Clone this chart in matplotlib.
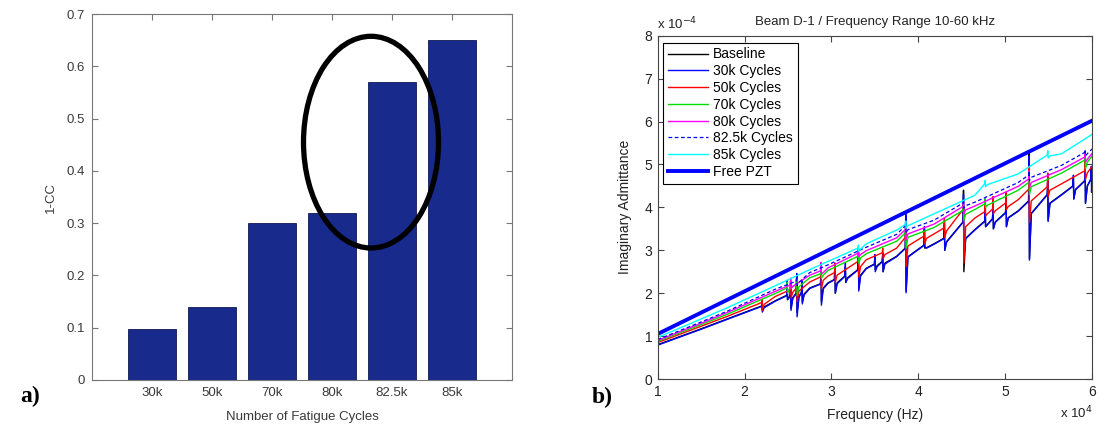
import numpy as np
import matplotlib
matplotlib.use('Agg')
import matplotlib.pyplot as plt
from matplotlib.patches import Ellipse

plt.rcParams['font.family'] = ['Liberation Sans', 'DejaVu Sans']

# ---- a) damage index per fatigue stage ----
cycles = ['30k', '50k', '70k', '80k', '82.5k', '85k']
one_minus_cc = [0.097, 0.14, 0.30, 0.32, 0.57, 0.65]

# ---- b) imaginary admittance sweeps ----
# frequency in units of 1e4 Hz, admittance in units of 1e-4
freq_nodes = [1.0, 1.5, 1.8, 2.35, 2.75, 2.96, 3.4, 3.75, 4.18, 4.65, 5.15, 5.65, 6.0]

baseline = [0.80, 1.17, 1.40, 1.82, 2.12, 2.24, 2.58, 2.86, 3.15, 3.48, 3.92, 4.30, 4.70]
cyc30 = [0.79, 1.16, 1.39, 1.81, 2.11, 2.23, 2.57, 2.85, 3.14, 3.47, 3.91, 4.29, 4.68]
cyc50 = [0.85, 1.23, 1.46, 1.92, 2.26, 2.40, 2.78, 3.05, 3.38, 3.75, 4.18, 4.55, 4.96]
cyc70 = [0.88, 1.27, 1.51, 1.99, 2.36, 2.53, 2.92, 3.21, 3.53, 3.95, 4.40, 4.80, 5.20]
cyc80 = [0.90, 1.30, 1.55, 2.04, 2.42, 2.59, 2.99, 3.29, 3.61, 4.03, 4.49, 4.88, 5.26]
cyc825 = [0.92, 1.33, 1.58, 2.09, 2.48, 2.66, 3.07, 3.37, 3.70, 4.12, 4.58, 4.98, 5.36]
cyc85 = [0.97, 1.40, 1.66, 2.17, 2.55, 2.74, 3.15, 3.47, 3.85, 4.28, 4.78, 5.25, 5.70]

pzt_freq = [1.0, 6.0]
free_pzt = [1.05, 6.02]

# resonances: (freq, value before, peak, trough, value after)
baseline_res = [
    (2.20, 1.70, 1.76, 1.60, 1.68), (2.49, 1.95, 2.25, 1.85, 1.92),
    (2.53, 1.96, 2.20, 1.65, 1.90), (2.60, 2.00, 2.40, 1.55, 1.92),
    (2.66, 2.02, 2.25, 1.80, 1.98), (2.88, 2.22, 2.65, 1.80, 2.12),
    (3.04, 2.32, 2.65, 2.00, 2.24), (3.16, 2.40, 2.60, 2.25, 2.36),
    (3.31, 2.55, 2.90, 2.10, 2.42), (3.50, 2.68, 2.85, 2.55, 2.64),
    (3.59, 2.74, 2.90, 2.50, 2.70), (3.855, 3.05, 3.80, 2.05, 2.85),
    (4.07, 3.12, 3.50, 3.05, 3.06), (4.30, 3.28, 3.60, 3.00, 3.20),
    (4.52, 3.66, 4.40, 2.50, 3.28), (4.77, 3.68, 4.00, 3.55, 3.60),
    (4.86, 3.74, 4.05, 3.50, 3.66), (5.01, 3.88, 4.15, 3.55, 3.76),
    (5.275, 4.15, 5.26, 2.80, 3.86), (5.49, 4.30, 4.65, 3.70, 4.10),
    (5.785, 4.50, 4.70, 4.20, 4.42), (5.92, 4.62, 4.90, 4.10, 4.50),
]
cyc30_res = [
    (2.20, 1.69, 1.75, 1.56, 1.66), (2.49, 1.94, 2.30, 1.85, 1.90),
    (2.53, 1.95, 2.25, 1.60, 1.88), (2.60, 1.99, 2.46, 1.45, 1.90),
    (2.66, 2.01, 2.30, 1.75, 1.96), (2.88, 2.21, 2.70, 1.72, 2.10),
    (3.04, 2.31, 2.70, 2.00, 2.22), (3.16, 2.39, 2.70, 2.25, 2.34),
    (3.31, 2.54, 2.95, 2.05, 2.40), (3.50, 2.67, 2.90, 2.50, 2.62),
    (3.59, 2.73, 2.95, 2.50, 2.68), (3.855, 3.04, 3.86, 2.01, 2.84),
    (4.07, 3.11, 3.55, 3.08, 3.05), (4.30, 3.27, 3.65, 3.00, 3.19),
    (4.52, 3.65, 4.30, 2.85, 3.27), (4.77, 3.67, 4.05, 3.55, 3.59),
    (4.86, 3.73, 4.10, 3.50, 3.65), (5.01, 3.87, 4.20, 3.55, 3.75),
    (5.275, 4.14, 5.20, 2.77, 3.85), (5.49, 4.29, 4.70, 3.67, 4.09),
    (5.785, 4.49, 4.75, 4.19, 4.41), (5.92, 4.61, 5.00, 4.09, 4.49),
    (5.99, 4.66, 4.95, 4.35, 4.68),
]
cyc50_res = [
    (2.20, 1.78, 1.86, 1.60, 1.74), (2.53, 2.08, 2.30, 1.90, 2.02),
    (2.60, 2.12, 2.35, 1.80, 2.05), (2.88, 2.38, 2.60, 2.10, 2.30),
    (3.04, 2.48, 2.70, 2.25, 2.42), (3.31, 2.74, 2.95, 2.38, 2.62),
    (3.59, 2.94, 3.05, 2.80, 2.90), (3.855, 3.30, 3.55, 2.62, 3.10),
    (4.07, 3.33, 3.45, 3.15, 3.28), (4.30, 3.52, 3.75, 3.30, 3.45),
    (4.52, 3.95, 4.05, 2.70, 3.55), (4.77, 3.90, 4.20, 3.80, 3.85),
    (4.86, 3.96, 4.25, 3.85, 3.92), (5.01, 4.10, 4.35, 3.95, 4.02),
    (5.275, 4.42, 4.95, 3.65, 4.15), (5.49, 4.48, 4.80, 4.25, 4.40),
    (5.92, 4.85, 5.15, 4.65, 4.80),
]
cyc70_res = [
    (2.49, 2.12, 2.25, 2.00, 2.10), (2.60, 2.20, 2.35, 1.95, 2.15),
    (2.88, 2.45, 2.65, 2.35, 2.42), (3.31, 2.86, 3.00, 2.70, 2.82),
    (3.855, 3.40, 3.55, 3.05, 3.30), (4.52, 3.93, 4.05, 3.70, 3.84),
    (4.77, 4.08, 4.20, 4.00, 4.05), (5.275, 4.58, 4.75, 4.30, 4.48),
    (5.92, 5.10, 5.20, 4.90, 5.05),
]
cyc80_res = [
    (2.53, 2.19, 2.35, 2.10, 2.16), (2.88, 2.52, 2.72, 2.45, 2.48),
    (3.31, 2.93, 3.05, 2.85, 2.90), (3.855, 3.48, 3.58, 3.25, 3.38),
    (4.52, 4.02, 4.12, 3.85, 3.94), (5.275, 4.66, 4.85, 4.45, 4.58),
    (5.92, 5.17, 5.25, 5.05, 5.12),
]
cyc825_res = [
    (2.60, 2.28, 2.40, 2.18, 2.25), (3.855, 3.57, 3.65, 3.40, 3.48),
    (4.52, 4.10, 4.20, 3.98, 4.04), (5.275, 4.75, 4.85, 4.62, 4.70),
    (5.92, 5.28, 5.35, 5.20, 5.25),
]
cyc85_res = [
    (3.31, 3.05, 3.12, 2.98, 3.03), (3.855, 3.60, 3.68, 3.52, 3.57),
    (4.77, 4.55, 4.63, 4.48, 4.53), (5.49, 5.22, 5.32, 5.15, 5.20),
]


def trace(nodes, values, res):
    # join the smooth read-off points with the resonance spikes
    pts = list(zip(nodes, values))
    for f, pre, top, bot, after in res:
        pts += [(f - 0.006, pre), (f, top), (f + 0.004, bot), (f + 0.025, after)]
    pts.sort()
    return np.array(pts).T


fig = plt.figure(figsize=(10.99, 4.24), dpi=100)

# ---- left panel ----
ax1 = fig.add_axes([0.0837, 0.1038, 0.3822, 0.863])
pos = np.arange(1, len(cycles) + 1)
ax1.bar(pos, one_minus_cc, width=0.8, color='#182a8c', edgecolor='#101a50', linewidth=0.6, zorder=2)
ax1.set_xlim(0, 7)
ax1.set_ylim(0, 0.7)
ax1.set_xticks(pos)
ax1.set_xticklabels(cycles)
yt = np.arange(0, 0.71, 0.1)
ax1.set_yticks(yt)
ax1.set_yticklabels(['0'] + ['%.1f' % v for v in yt[1:]])
ax1.tick_params(direction='in', top=True, right=True, length=4, width=0.8,
                labelsize=9.5, color='#777777', labelcolor='#3a3a3a', pad=5)
for s in ax1.spines.values():
    s.set_color('#777777')
ax1.set_xlabel('Number of Fatigue Cycles', fontsize=9.5, color='#3a3a3a')
ax1.set_ylabel('1-CC', fontsize=9.5, color='#3a3a3a')
ax1.xaxis.set_label_coords(0.5, -0.085)
ax1.yaxis.set_label_coords(-0.083, 0.5)

# circle around the jump between 80k and 82.5k
ell = Ellipse((4.65, 0.455), 2.25, 0.405, fill=False, edgecolor='black', linewidth=3.8, zorder=3)
ax1.add_patch(ell)

fig.text(20 / 1099, 1 - 396 / 424, 'a)', fontsize=17, fontweight='bold',
         family='Liberation Serif', va='center', ha='left')

# ---- right panel ----
ax2 = fig.add_axes([0.5985, 0.1061, 0.3952, 0.8097])
series = [
    ('Baseline', baseline, baseline_res, dict(color='black', lw=1.0)),
    ('30k Cycles', cyc30, cyc30_res, dict(color='blue', lw=1.0)),
    ('50k Cycles', cyc50, cyc50_res, dict(color='red', lw=1.0)),
    ('70k Cycles', cyc70, cyc70_res, dict(color='#00dd00', lw=1.0)),
    ('80k Cycles', cyc80, cyc80_res, dict(color='magenta', lw=1.0)),
    ('82.5k Cycles', cyc825, cyc825_res, dict(color='blue', lw=0.9, linestyle=(0, (3, 2)))),
    ('85k Cycles', cyc85, cyc85_res, dict(color='cyan', lw=1.0)),
]
for name, vals, res, style in series:
    x, y = trace(freq_nodes, vals, res)
    ax2.plot(x, y, label=name, **style)
ax2.plot(pzt_freq, free_pzt, color='blue', lw=2.8, label='Free PZT')

ax2.set_xlim(1, 6)
ax2.set_ylim(0, 8)
ax2.set_xticks(range(1, 7))
ax2.set_yticks(range(0, 9))
ax2.tick_params(direction='in', top=True, right=True, length=4, width=0.8,
                labelsize=10, color='#444444', labelcolor='#222222', pad=4)
for s in ax2.spines.values():
    s.set_color('#444444')
ax2.set_xlabel('Frequency (Hz)', fontsize=10, color='#222222')
ax2.set_ylabel('Imaginary Admittance', fontsize=10, color='#222222')
ax2.xaxis.set_label_coords(0.5, -0.084)
ax2.yaxis.set_label_coords(-0.059, 0.5)

leg = ax2.legend(loc='upper left', bbox_to_anchor=(0.012, 0.98), borderaxespad=0,
                 fontsize=10, handlelength=2.9, handletextpad=0.35, labelspacing=0.2,
                 borderpad=0.35, fancybox=False, framealpha=1, edgecolor='black')
leg.get_frame().set_linewidth(0.8)

fig.text(875 / 1099, 1 - 22 / 424, 'Beam D-1 / Frequency Range 10-60 kHz',
         fontsize=9.5, color='#222222', ha='center', va='center')
fig.text(657 / 1099, 1 - 24 / 424, r'x 10$^{-4}$', fontsize=9.5, color='#222222',
         ha='left', va='center')
fig.text(1093 / 1099, 1 - 413 / 424, r'x 10$^{4}$', fontsize=9.5, color='#222222',
         ha='right', va='center')
fig.text(592 / 1099, 1 - 397 / 424, 'b)', fontsize=17, fontweight='bold',
         family='Liberation Serif', va='center', ha='left')

fig.savefig('out.png', dpi=100)
